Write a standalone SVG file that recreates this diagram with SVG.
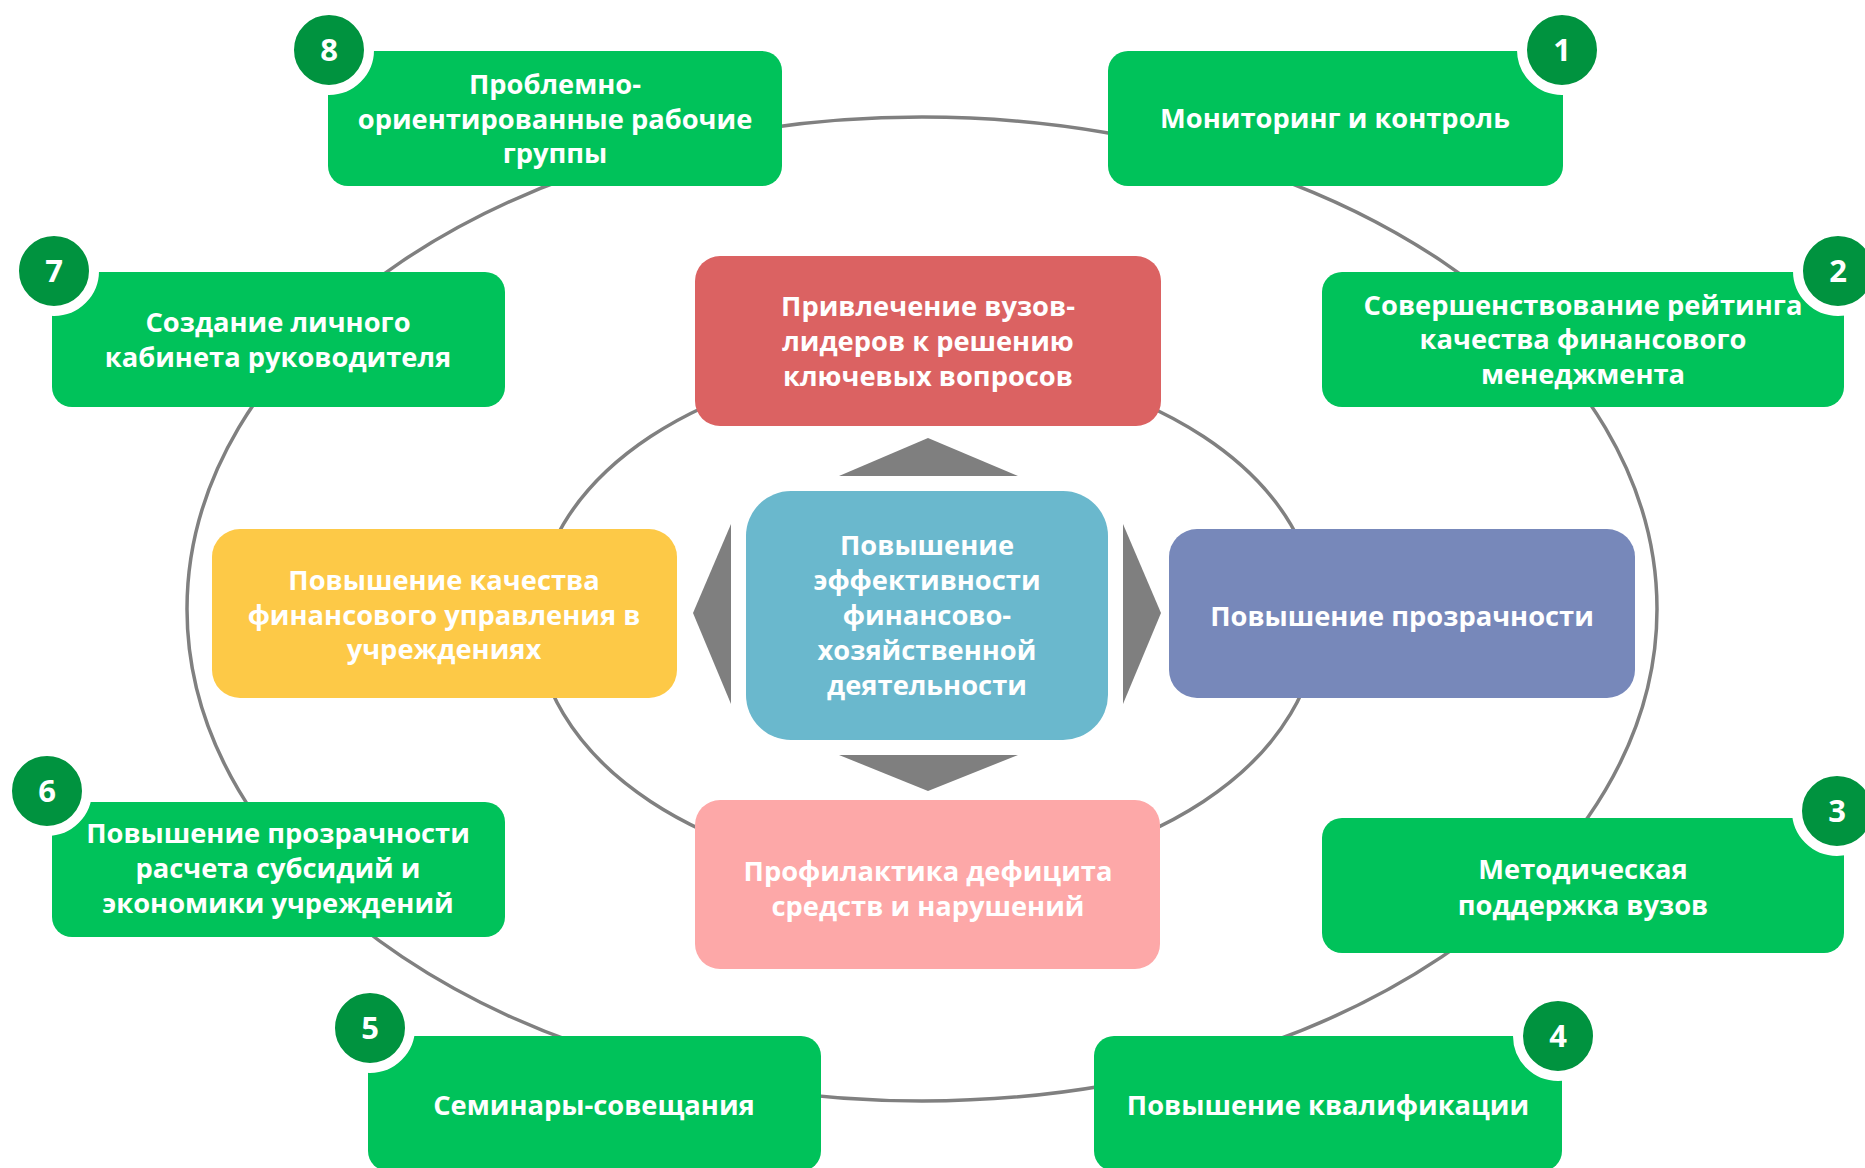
<svg xmlns="http://www.w3.org/2000/svg" width="1865" height="1168" viewBox="0 0 1865 1168">
<style>
.t{font-family:"Open Sans","Noto Sans","Liberation Sans",sans-serif;font-weight:700;font-size:27.3px;fill:#ffffff;text-anchor:middle}
.n{font-family:"Open Sans","Noto Sans","Liberation Sans",sans-serif;font-weight:700;font-size:31px;fill:#ffffff;text-anchor:middle}
.g{fill:#00C25A}
.b{fill:#00933F;stroke:#ffffff;stroke-width:10}
.line{fill:none;stroke:#808080;stroke-width:3.5}
.tri{fill:#7F7F7F}
</style>
<rect x="0" y="0" width="1865" height="1168" fill="#ffffff"/>
<g id="connectors">
<ellipse class="line" cx="922" cy="609" rx="735" ry="492"/>
<ellipse class="line" cx="927" cy="619" rx="391" ry="258"/>
</g>
<g id="arrows">
<polygon class="tri" points="839,476 928,438 1018,476"/>
<polygon class="tri" points="839,755 928,791 1018,755"/>
<polygon class="tri" points="731,524 693,613 731,704"/>
<polygon class="tri" points="1123,524 1161,613 1123,704"/>
</g>
<g id="center">
<rect x="746" y="491" width="362" height="249" rx="45" fill="#6AB8CD"/>
<text class="t"><tspan x="927" y="555">Повышение</tspan><tspan x="927" y="590">эффективности</tspan><tspan x="927" y="625">финансово-</tspan><tspan x="927" y="660">хозяйственной</tspan><tspan x="927" y="695">деятельности</tspan></text>
</g>
<g id="red">
<rect x="695" y="256" width="466" height="170" rx="25" fill="#DB6262"/>
<text class="t"><tspan x="928" y="316">Привлечение вузов-</tspan><tspan x="928" y="351">лидеров к решению</tspan><tspan x="928" y="386">ключевых вопросов</tspan></text>
</g>
<g id="yellow">
<rect x="212" y="529" width="465" height="169" rx="28" fill="#FDC947"/>
<text class="t"><tspan x="444" y="590">Повышение качества</tspan><tspan x="444" y="625">финансового управления в</tspan><tspan x="444" y="659">учреждениях</tspan></text>
</g>
<g id="purple">
<rect x="1169" y="529" width="466" height="169" rx="28" fill="#7788BA"/>
<text class="t" x="1402" y="626">Повышение прозрачности</text>
</g>
<g id="pink">
<rect x="695" y="800" width="465" height="169" rx="25" fill="#FDA8A8"/>
<text class="t"><tspan x="928" y="881">Профилактика дефицита</tspan><tspan x="928" y="916">средств и нарушений</tspan></text>
</g>
<g id="node8">
<rect class="g" x="328" y="51" width="454" height="135" rx="20"/>
<text class="t"><tspan x="555" y="94">Проблемно-</tspan><tspan x="555" y="129">ориентированные рабочие</tspan><tspan x="555" y="163">группы</tspan></text>
<circle class="b" cx="329" cy="50" r="40"/>
<text class="n" x="329" y="61">8</text>
</g>
<g id="node1">
<rect class="g" x="1108" y="51" width="455" height="135" rx="20"/>
<text class="t" x="1335" y="128">Мониторинг и контроль</text>
<circle class="b" cx="1562" cy="50" r="40"/>
<text class="n" x="1562" y="61">1</text>
</g>
<g id="node2">
<rect class="g" x="1322" y="272" width="522" height="135" rx="20"/>
<text class="t"><tspan x="1583" y="315">Совершенствование рейтинга</tspan><tspan x="1583" y="349">качества финансового</tspan><tspan x="1583" y="384">менеджмента</tspan></text>
<circle class="b" cx="1838" cy="271" r="40"/>
<text class="n" x="1838" y="282">2</text>
</g>
<g id="node7">
<rect class="g" x="52" y="272" width="453" height="135" rx="20"/>
<text class="t"><tspan x="278" y="332">Создание личного</tspan><tspan x="278" y="367">кабинета руководителя</tspan></text>
<circle class="b" cx="54" cy="271" r="40"/>
<text class="n" x="54" y="282">7</text>
</g>
<g id="node6">
<rect class="g" x="52" y="802" width="453" height="135" rx="20"/>
<text class="t"><tspan x="278" y="843">Повышение прозрачности</tspan><tspan x="278" y="878">расчета субсидий и</tspan><tspan x="278" y="913">экономики учреждений</tspan></text>
<circle class="b" cx="47" cy="791" r="40"/>
<text class="n" x="47" y="802">6</text>
</g>
<g id="node3">
<rect class="g" x="1322" y="818" width="522" height="135" rx="20"/>
<text class="t"><tspan x="1583" y="879">Методическая</tspan><tspan x="1583" y="915">поддержка вузов</tspan></text>
<circle class="b" cx="1837" cy="811" r="40"/>
<text class="n" x="1837" y="822">3</text>
</g>
<g id="node5">
<rect class="g" x="368" y="1036" width="453" height="135" rx="20"/>
<text class="t" x="594" y="1115">Семинары-совещания</text>
<circle class="b" cx="370" cy="1028" r="40"/>
<text class="n" x="370" y="1039">5</text>
</g>
<g id="node4">
<rect class="g" x="1094" y="1036" width="468" height="135" rx="20"/>
<text class="t" x="1328" y="1115">Повышение квалификации</text>
<circle class="b" cx="1558" cy="1036" r="40"/>
<text class="n" x="1558" y="1047">4</text>
</g>
</svg>
